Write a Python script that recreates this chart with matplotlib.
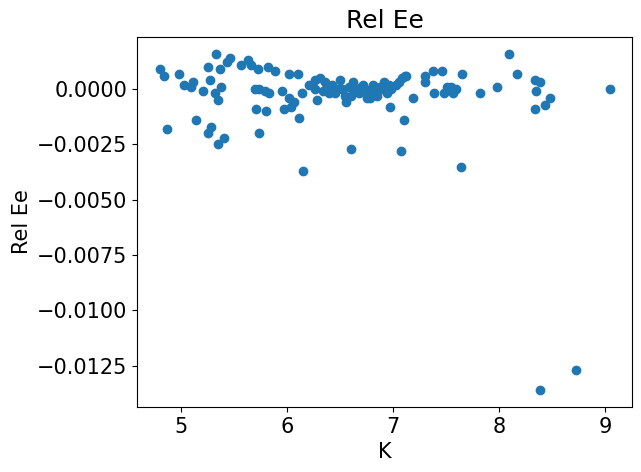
import numpy as np
import matplotlib
matplotlib.use("Agg")
import matplotlib.pyplot as plt

k = [4.80, 4.84, 4.87, 4.98, 5.03, 5.10, 5.11, 5.14, 5.21, 5.26, 5.27, 5.26, 5.28,
     5.33, 5.32, 5.35, 5.35, 5.37, 5.38, 5.41, 5.43, 5.46, 5.57, 5.63, 5.66, 5.70,
     5.71, 5.73, 5.74, 5.74, 5.79, 5.80, 5.82, 5.83, 5.89, 5.95, 5.97, 6.02, 6.02,
     6.04, 6.07, 6.10, 6.11, 6.15, 6.14, 6.21, 6.26, 6.28, 6.26,
     6.31, 6.36, 6.42, 6.40, 6.48, 6.50, 6.55, 6.58, 6.62, 6.66, 6.70, 6.75, 6.72,
     6.79, 6.81, 6.85, 6.88, 6.91, 6.96, 6.94, 6.98, 7.03, 7.06, 7.08, 7.11,
     6.34, 6.45, 6.52, 6.60, 6.68, 6.74, 6.83, 6.90, 6.38, 6.56, 6.64, 6.78,
     6.60, 6.97, 7.07, 7.10, 7.12, 7.19, 7.30, 7.30, 7.38, 7.46, 7.39, 7.48,
     7.51, 7.56, 7.59, 7.55, 7.65, 7.64, 7.82, 7.98, 8.09, 8.17, 8.34, 8.38, 8.35,
     8.34, 8.43, 8.48, 8.38, 8.72, 9.04]
rel_ee = [0.0009, 0.0006, -0.0018, 0.0007, 0.0002, 0.0001, 0.0003, -0.0014, -0.0001,
          0.0010, 0.0004, -0.0020, -0.0017, 0.0016, -0.0002, -0.0005, -0.0025, 0.0009,
          0.0001, -0.0022, 0.0012, 0.0014, 0.0011, 0.0013, 0.0011, 0.0000, -0.0009,
          0.0009, -0.0020, 0.0000, -0.0001, -0.0010, 0.0010, -0.0002, 0.0008, -0.0001,
          -0.0009, 0.0007, -0.0004, -0.0008, -0.0006, 0.0007, -0.0013, -0.0037, -0.0002,
          0.0002, 0.0004, -0.0005, 0.0000,
          0.0005, 0.0003, 0.0002, -0.0002, 0.0000, 0.0004, -0.0003, 0.0001, 0.0003,
          -0.0001, 0.0001, -0.0004, 0.0002, 0.0000, 0.0002, -0.0003, 0.0001, 0.0003,
          0.0002, -0.0002, 0.0000, 0.0002, 0.0003, 0.0005, 0.0006,
          -0.0001, -0.0002, 0.0000, -0.0003, -0.0002, -0.0001, -0.0002, 0.0000,
          0.0002, -0.0006, 0.0000, -0.0004,
          -0.0027, -0.0008, -0.0028, -0.0014, 0.0006, -0.0004, 0.0006, 0.0003, 0.0008,
          0.0008, -0.0002, -0.0002, 0.0001, -0.0002, 0.0000, 0.0001, 0.0007, -0.0035,
          -0.0002, 0.0001, 0.0016, 0.0007, 0.0004, 0.0003, -0.0001, -0.0009, -0.0007,
          -0.0004, -0.0136, -0.0127, 0.0000]

plt.rcParams["font.size"] = 15
fig, ax = plt.subplots(figsize=(6.41, 4.72), dpi=100)
ax.scatter(k, rel_ee)
ax.set_title("Rel Ee", fontsize=18)
ax.set_xlabel("K")
ax.set_ylabel("Rel Ee")
ax.set_xticks([5, 6, 7, 8, 9])
fig.subplots_adjust(left=0.214, right=0.986, top=0.922, bottom=0.138)
fig.savefig("out.png", dpi=100)
